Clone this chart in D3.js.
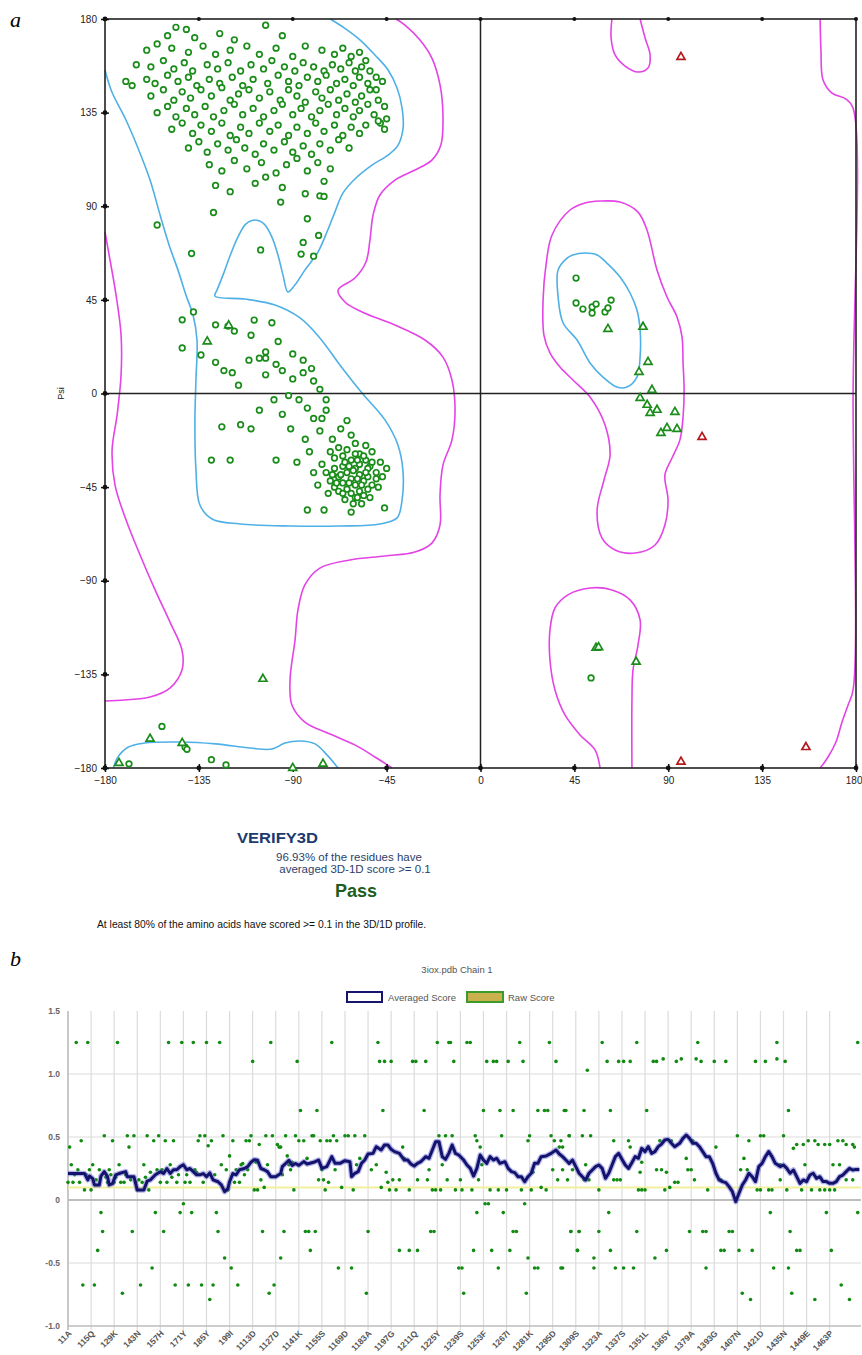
<!DOCTYPE html>
<html><head><meta charset="utf-8">
<script src="https://cdn.jsdelivr.net/npm/d3@7"></script>
<style>body{margin:0;background:#fff}svg{display:block}</style>
</head><body>
<svg id="c" width="862" height="1355"></svg>
<script>
// ---------------- Panel a : Ramachandran data ----------------
const angleTicks = [-180,-135,-90,-45,0,45,90,135,180];

const blueMain = [[-72,180],[-65,175.5],[-57.8,170],[-50.6,162.7],[-44.3,155.5],[-40,146.8],[-37.6,137.2],[-37.1,127.6],[-39.5,119.4],[-44.3,114.6],[-52,109.8],[-59.7,103.6],[-65.9,96.4],[-69.8,87.2],[-73.6,77.6],[-77.9,68],[-84.2,59.3],[-89,52.1],[-92.3,48.8],[-94.7,57],[-97.1,66.6],[-100,75.2],[-103.8,81.5],[-108.1,83.4],[-112.4,81.5],[-116.3,75.2],[-120.1,66.1],[-123.4,57],[-126.3,49.7],[-127.3,46.8],[-112.9,45.4],[-98.5,42.5],[-86.5,36.3],[-77,26.7],[-67.4,13.7],[-56.8,0.2],[-45.8,-12.7],[-39.6,-24.7],[-37.2,-36.8],[-37.6,-51.2],[-40,-59.8],[-48.2,-62.7],[-67.4,-63.7],[-91.3,-63.7],[-115.3,-62.7],[-128.7,-60.3],[-134.5,-53.6],[-136.4,-36.8],[-136.9,-12.7],[-136.4,6.5],[-135.9,25.7],[-137.8,37.7],[-141.2,47.3],[-145,59.3],[-149.3,71.4],[-153.6,85.8],[-158.4,102.6],[-164.2,118],[-170.4,132.4],[-176.7,144.9],[-180,155.5]];
const blueBottom = [[-176,-180],[-174,-175],[-169,-170],[-161,-168],[-144,-167.5],[-127,-168.4],[-110.5,-170.4],[-100,-170.9],[-93.7,-168],[-86.5,-167],[-79.3,-168.4],[-73.6,-173.7],[-68.3,-180]];
const blueRight = [[44.3,66.6],[50.1,67.5],[55.9,66.6],[60.6,62.7],[66.9,56],[71.7,48.3],[75,40.1],[76.5,30.5],[76.5,17.5],[75,7.9],[70.2,3.1],[65.4,3.1],[58.7,7.9],[52.5,14.7],[46.3,25.7],[39.6,33.9],[37.2,46.4],[37.2,59.4],[41.5,65.1]];

const magMain = [[-40.5,180],[-36.2,177.1],[-29,169.9],[-23.3,161.2],[-19.4,148.3],[-18,133.8],[-19,119.4],[-23.3,112.2],[-31.4,107.4],[-41,102.6],[-48.2,95.4],[-51.5,85.8],[-53,73.7],[-54.9,63.2],[-60.2,55.5],[-68.3,49.7],[-65,44],[-56.8,39.2],[-41,32.9],[-26.6,25.7],[-18,17.5],[-13.7,6.5],[-12.2,-7.9],[-13.7,-22.4],[-18,-34.4],[-19.4,-48.8],[-19.4,-63.2],[-23.3,-71.9],[-31.4,-76.2],[-45.8,-78.1],[-62.6,-80],[-77,-83.9],[-84.2,-92],[-87.5,-104],[-88.9,-118.4],[-91.3,-137.7],[-90.4,-149.7],[-84.2,-157.9],[-72.1,-163.7],[-60.2,-168.9],[-50.6,-174.7],[-42.4,-180]];
const magLeft = [[-180,77.6],[-177.6,64.2],[-174.7,47.3],[-172.3,28.1],[-172.3,8.9],[-174.2,-10.3],[-176.6,-27.2],[-175.2,-44],[-169.9,-60.8],[-163.2,-77.6],[-156,-94.4],[-148.9,-109.8],[-143.1,-123.3],[-143.1,-132.9],[-148.9,-141.6],[-158.4,-145.9],[-170.4,-147.3],[-180,-147.8]];
const magRightEdge = [[162.8,180],[163.2,165.1],[164.2,150.7],[168.5,144.4],[175.2,141.5],[178.6,137.2],[178.6,-3.1],[178.6,-142.5],[176.2,-149.7],[173.3,-157.9],[170.4,-167.5],[166.6,-174.7],[162.8,-180]];
const magTop = [[63,180],[62.6,170.9],[64.5,162.7],[69.3,157.4],[75.5,154.5],[80.3,156.4],[81.3,162.7],[78.9,170.9],[76.5,180]];
const magRightLoop = [[57.3,92.5],[66.9,92],[75.5,87.2],[79.8,78.6],[84.6,59.4],[89.4,46.4],[94.2,36.8],[96.6,27.2],[97.1,14.7],[97.6,1.7],[97.1,-11.3],[95.6,-22.3],[91.8,-31],[88.4,-39.2],[89.9,-51.2],[88.4,-63.2],[83.7,-72.8],[74.1,-76.7],[64.5,-75.2],[58.2,-69.4],[55.9,-56],[59.2,-41.6],[62.1,-29.6],[59.7,-15.1],[52.5,-1.7],[44.3,6.5],[38.1,12.7],[33.3,19.5],[30.4,28.1],[30,44.9],[31.4,61.8],[34.3,76.2],[42.9,88.2],[50.1,91.6]];
const magBottomRight = [[57.3,-180],[54.9,-171.3],[47.7,-164.1],[40.5,-154.5],[35.7,-142.5],[33.3,-128.1],[33.3,-113.6],[35.7,-103.1],[41.9,-96.8],[52.5,-93.5],[63,-94.4],[71.7,-99.2],[76.5,-108.8],[75.5,-120.9],[73.1,-132.9],[72.6,-147.3],[72.6,-180]];

const residueCircles = [
[-146,176],[-141,175],[-103,177],[-137,171],[-150,172],[-125,173],[-118,170],[-95,172],
[-160,165],[-155,168],[-148,166],[-140,164],[-133,167],[-127,163],[-120,165],[-112,167],[-106,163],[-98,166],[-90,162],[-84,167],[-76,165],[-70,163],[-66,166],[-62,162],[-58,164],[-55,160],
[-165,158],[-158,157],[-152,160],[-147,156],[-142,159],[-138,155],[-131,158],[-126,156],[-121,159],[-115,155],[-110,158],[-104,156],[-100,160],[-94,157],[-89,155],[-85,159],[-80,157],[-75,155],[-71,158],[-67,156],[-63,159],[-60,155],[-57,157],[-53,155],[-50,152],
[-170,150],[-167,148],[-160,151],[-156,149],[-150,153],[-145,150],[-140,152],[-136,148],[-130,151],[-125,149],[-119,152],[-114,148],[-109,151],[-102,149],[-97,153],[-92,150],[-87,148],[-83,152],[-78,150],[-74,153],[-69,149],[-65,151],[-61,148],[-58,152],[-54,149],[-50,146],[-47,150],
[-158,143],[-152,146],[-147,141],[-143,145],[-139,142],[-134,146],[-129,143],[-124,147],[-120,141],[-116,144],[-111,146],[-106,142],[-101,145],[-96,141],[-92,146],[-88,143],[-84,140],[-79,145],[-76,142],[-72,146],[-68,141],[-64,144],[-60,140],[-57,143],[-53,146],[-49,141],[-46,138],
[-155,135],[-150,138],[-146,133],[-141,137],[-137,134],[-132,138],[-128,133],[-123,136],[-118,139],[-114,134],[-109,137],[-104,133],[-99,136],[-95,139],[-90,134],[-86,137],[-81,133],[-77,136],[-73,139],[-69,134],[-65,137],[-61,133],[-58,136],[-54,139],[-51,134],[-48,130],[-45,132],
[-148,127],[-143,130],[-138,125],[-134,129],[-129,126],[-124,130],[-120,124],[-115,128],[-111,125],[-106,130],[-101,126],[-97,129],[-92,124],[-88,128],[-83,125],[-79,130],[-75,126],[-70,129],[-66,124],[-62,128],[-58,125],[-55,129],
[-140,118],[-135,121],[-131,116],[-126,120],[-121,117],[-117,122],[-113,118],[-108,115],[-104,120],[-99,117],[-94,121],[-90,116],[-85,119],[-81,115],[-77,120],[-72,117],[-68,122],[-63,118],
[-130,110],[-124,107],[-118,112],[-112,108],[-105,111],[-98,106],[-93,110],[-88,113],[-83,107],[-78,111],[-72,108],
[-127,100],[-120,97],[-108,101],[-103,104],[-95,99],[-84,96],[-77,95],[-75,102],
[-155,81],[-138.5,67.3],[-128,87],[-105.4,69],[-86,67],[-85,72.6],[-77.6,76],[-75,94.7],[-95.8,92],[-83,84],[-80,66],[-49,131],[-46,127],
[-143,35.4],[-137.6,39.2],[-143,21.9],[-134,18.5],[-121,32.4],[-108.5,35.3],
[-127,15],[-123,11],[-119,10],[-116,4],[-111,16],[-106,17],[-103,17],[-98,14],[-103,9],[-95,11],[-90,7],[-85,10],[-80,6],[-77,2],[-92,-1],[-87,-3],[-83,-7],[-80,-12],[-77,-18],[-84,-22],[-91,-17],[-95,-10],[-99,-3],[-106,-8],[-110,-17],[-115,-15],[-124,-16],[-129,-32],[-120,-32],[-98,-32],[-74,-3],[-74,-8],[-76,-12],[-71,-22],[-67,-17],[-64,-13],[-62,-20],[-60,-24],[-58,-29],[-55,-32],[-53,-35],[-50,-38],
[-127,33],[-118,30],[-110,28],[-103,20],[-97,25],[-90,19],[-100,34],[-85,16],[-81,12],
[-72,-28],[-70,-31],[-68,-26],[-66,-30],[-64,-27],[-62,-32],[-60,-29],[-58,-34],[-56,-30],[-54,-36],[-52,-33],[-70,-36],[-68,-40],[-66,-35],[-64,-38],[-62,-41],[-60,-36],[-58,-39],[-56,-42],[-54,-40],[-52,-44],[-50,-41],[-72,-42],[-70,-45],[-68,-47],[-66,-43],[-64,-46],[-62,-48],[-60,-44],[-58,-47],[-56,-49],[-54,-46],[-74,-38],[-76,-34],[-73,-48],[-65,-51],[-61,-53],[-67,-39],[-63,-43],[-59,-41],[-65,-33],[-61,-37],[-57,-44],[-69,-43],[-71,-39],[-63,-35],[-59,-32],[-55,-38],[-66,-48],[-60,-50],[-57,-53],[-53,-50],[-49,-45],[-47,-40],[-45,-36],[-48,-33],[-52,-28],[-55,-25],[-82,-28],[-88,-33],[-80,-38],[-78,-44],
[-83,-56],[-75,-56],[-62,-57],[-46,-55],[-59,-50],
[45.8,55.5],[45.8,43.5],[49.1,40.6],[53.5,41.6],[55.4,43],[53.5,38.7],[59.7,39.2],[61.1,41.1],[62.6,44.9],
[53,-136.7],[-152.7,-160],[-141.6,-170],[-140.7,-171],[-168.5,-178],[-129,-176],[-122,-178.5]];
const glycineTriangles = [[61.1,31],[77.9,32],[80.3,15.1],[76,10.3],[82.2,1.7],[76.5,-2.2],[79.9,-5.5],[81.3,-9.4],[84.6,-7.9],[93.2,-8.9],[89.4,-16.6],[86.5,-19],[94.2,-17.1],[-104.3,-137.2],[55.4,-122.3],[56.6,-122],[74.6,-129],[-158.4,-166],[-143,-168],[-173.3,-177.6],[-90,-180],[-75.5,-178],[-131,25],[-120.7,32.7]];
const outlierTriangles = [[106.2,-20.9],[96.1,161.7],[96.1,-177],[156,-170]];

// ---------------- Panel b : Verify3D data ----------------
const residueLabels = ["11A","115Q","129K","143N","157H","171Y","185Y","199I","1113D","1127D","1141K","1155S","1169D","1183A","1197G","1211Q","1225Y","1239S","1253F","1267I","1281K","1295D","1309S","1323A","1337S","1351L","1365Y","1379A","1393G","1407N","1421D","1435N","1449E","1463P"];
const labelResidues = residueLabels.map((d,i)=>1+14*i);
const scoreTicks = [1.5,1.0,0.5,0,-0.5,-1.0];
const scoreTickLabels = ["1.5","1.0","0.5","0","-0.5","-1.0"];

const rawScores = [
[1,0.14],[2,0.42],[3,0.28],[4,0.14],[5,0.2],[6,1.25],[7,0.24],[8,0.14],[9,0.47],[10,-0.675],[11,0.08],[12,0.2],[13,1.25],[14,0.24],
[15,0.08],[16,0.28],[17,-0.675],[18,0.16],[19,-0.40],[20,0.24],[21,-0.10],[22,-0.25],[23,0.51],[24,0.18],[25,0.14],[26,0.24],[27,0.2],[28,0.47],
[29,0.14],[30,0.18],[31,1.25],[32,0.28],[33,0.14],[34,-0.74],[35,0.14],[36,0.2],[37,0.51],[38,0.42],[39,0.16],[40,-0.25],[41,0.51],[42,0.14],
[43,0.08],[44,0.16],[45,-0.675],[46,0.14],[47,0.28],[48,0.18],[49,0.51],[50,0.08],[51,0.22],[52,-0.54],[53,0.47],[54,-0.10],[55,0.24],[56,0.51],
[57,0.14],[58,0.24],[59,-0.25],[60,0.47],[61,0.14],[62,1.25],[63,0.28],[64,0.18],[65,0.47],[66,-0.675],[67,0.14],[68,0.2],[69,-0.10],[70,1.25],
[71,-0.03],[72,0.14],[73,0.2],[74,-0.675],[75,0.14],[76,-0.10],[77,1.25],[78,0.24],[79,0.22],[80,0.47],[81,0.51],[82,-0.675],[83,0.14],[84,0.51],
[85,1.25],[86,0.43],[87,-0.79],[88,0.47],[89,-0.675],[90,0.2],[91,-0.10],[92,-0.25],[93,1.25],[94,0.28],[95,0.51],[96,-0.46],[97,0.24],[98,0.08],
[99,0.35],[100,-0.54],[101,0.47],[102,0.14],[103,0.24],[104,-0.675],[105,0.14],[106,0.28],[107,0.29],[108,0.2],[109,0.47],[110,0.24],[111,0.47],[112,0.51],
[113,1.10],[114,0.08],[115,0.3],[116,0.08],[117,0.44],[118,0.16],[119,-0.25],[120,0.1],[121,0.51],[122,0.28],[123,-0.74],[124,1.25],[125,0.51],[126,-0.675],
[128,0.44],[129,0.42],[131,0.2],[134,0.35],[135,0.28],[136,0.24],[137,0.3],
[161,1.25],[189,1.25],[225,1.25],[232,1.25],[233,1.25],[243,1.25],[245,1.25],[275,1.25],[293,1.25],
[140,1.10],[190,1.10],[193,1.10],[197,1.10],[210,1.10],[212,1.10],[218,1.10],[235,1.10],[255,1.10],[259,1.10],[261,1.10],[268,1.10],[277,1.10],[297,1.10],
[142,0.71],[152,0.71],[192,0.71],[217,0.71],[253,0.71],[263,0.71],[271,0.71],[286,0.71],[290,0.71],[292,0.71],[303,0.71],
[133,0.51],[139,0.51],[149,0.51],[150,0.51],[162,0.51],[169,0.51],[171,0.51],[175,0.51],[181,0.51],[226,0.51],[230,0.51],[234,0.51],[248,0.51],[264,0.51],[281,0.51],[294,0.51],[305,0.51],
[141,0.47],[144,0.47],[154,0.47],[158,0.47],[160,0.47],[164,0.47],[249,0.47],[280,0.47],[296,0.47],
[130,0.42],[204,0.42],[251,0.42],[299,0.42],[301,0.42],
[146,0.33],[178,0.33],[205,0.33],
[176,0.28],[188,0.28],[228,0.28],[252,0.28],
[155,0.24],[163,0.24],[185,0.24],[220,0.24],[295,0.24],
[194,0.22],[283,0.22],
[153,0.16],[156,0.16],[198,0.16],[202,0.16],[213,0.16],[219,0.16],[231,0.16],[239,0.16],[250,0.16],[298,0.16],[304,0.16],
[159,0.14],[195,0.14],
[167,0.10],[191,0.10],[288,0.10],
[138,0.08],[157,0.08],[174,0.08],[196,0.08],[200,0.08],[208,0.08],[222,0.08],[224,0.08],[227,0.08],[236,0.08],[240,0.08],[246,0.08],[257,0.08],[262,0.08],[267,0.08],[276,0.08],[282,0.08],[291,0.08],
[254,-0.03],[256,-0.03],[278,-0.03],
[249,-0.10],[265,-0.10],
[132,-0.25],[145,-0.25],[147,-0.25],[151,-0.25],[183,-0.25],[221,-0.25],[223,-0.25],[271,-0.25],[273,-0.25],[306,-0.25],[311,-0.25],
[148,-0.40],[202,-0.40],[208,-0.40],[213,-0.40],[247,-0.40],[258,-0.40],[269,-0.40],[310,-0.40],
[130,-0.46],[280,-0.46],
[165,-0.54],[173,-0.54],[238,-0.54],[240,-0.54],[262,-0.54],[284,-0.54],[286,-0.54],[300,-0.54],
[182,-0.74],[241,-0.74],[279,-0.74],
[325,1.25],[346,1.25],[383,1.25],[431,1.25],[480,1.25],
[328,1.10],[335,1.10],[338,1.10],[342,1.10],[356,1.10],[358,1.10],[362,1.12],[370,1.10],[373,1.12],[382,1.12],[385,1.10],[393,1.10],[400,1.10],[418,1.10],[424,1.10],[431,1.12],[436,1.10],
[316,1.03],
[302,0.71],[314,0.71],[330,0.71],[352,0.71],[438,0.71],
[305,0.51],[313,0.51],[318,0.51],[407,0.51],[421,0.51],[423,0.51],[435,0.51],
[300,0.47],[332,0.47],[341,0.47],[360,0.47],[367,0.47],[380,0.47],[414,0.47],[450,0.47],[454,0.47],[468,0.47],[471,0.47],
[443,0.44],[447,0.44],[456,0.44],[460,0.44],[463,0.44],[473,0.44],[477,0.44],
[342,0.42],[394,0.42],[441,0.41],[478,0.42],
[376,0.33],[411,0.33],
[315,0.28],[349,0.30],[433,0.28],[448,0.28],[465,0.28],[469,0.28],
[301,0.24],[307,0.24],[358,0.24],[361,0.24],[379,0.24],[377,0.24],[409,0.24],[413,0.24],
[348,0.22],[364,0.22],
[314,0.16],[317,0.16],[332,0.16],[334,0.16],[336,0.16],[381,0.16],[397,0.16],[418,0.16],[433,0.16],[473,0.16],[477,0.16],
[369,0.14],[371,0.14],[366,0.10],
[323,0.08],[347,0.08],[349,0.08],[351,0.08],[363,0.08],[389,0.08],[419,0.08],[421,0.08],[426,0.08],[428,0.08],[437,0.08],[446,0.08],[452,0.08],[457,0.08],[460,0.08],[463,0.08],[466,0.08],
[329,-0.10],[427,-0.10],[461,-0.10],[480,-0.10],
[306,-0.25],[311,-0.25],[323,-0.25],[346,-0.25],[378,-0.25],[386,-0.25],[388,-0.25],[402,-0.25],[404,-0.25],[439,-0.25],
[310,-0.40],[330,-0.40],[364,-0.40],[397,-0.40],[399,-0.40],[408,-0.40],[416,-0.40],[443,-0.40],[445,-0.40],[464,-0.40],
[320,-0.46],[357,-0.46],
[301,-0.54],[320,-0.54],[333,-0.54],[338,-0.54],[344,-0.54],[388,-0.54],[429,-0.54],[438,-0.54],
[410,-0.74],[440,-0.74],[415,-0.79],[454,-0.79],[475,-0.79],[470,-0.675]];

const avgScores = [[1,0.21],[11,0.21],[13,0.16],[14,0.19],[16,0.17],[17,0.12],[20,0.12],[21,0.19],[23,0.225],[25,0.185],[26,0.12],[28,0.13],[30,0.2],[32,0.21],[36,0.225],[37,0.185],[40,0.185],[41,0.185],[43,0.08],[47,0.08],[49,0.15],[51,0.16],[54,0.2],[57,0.225],[59,0.21],[61,0.25],[63,0.21],[65,0.24],[67,0.24],[69,0.265],[71,0.28],[73,0.24],[75,0.25],[77,0.225],[79,0.2],[81,0.2],[83,0.21],[85,0.185],[87,0.215],[89,0.16],[92,0.145],[94,0.12],[96,0.066],[98,0.09],[99,0.145],[101,0.21],[103,0.2],[105,0.24],[108,0.25],[110,0.265],[112,0.30],[114,0.32],[116,0.315],[118,0.25],[120,0.24],[122,0.225],[124,0.185],[127,0.185],[130,0.21],[131,0.265],[133,0.29],[135,0.315],[137,0.275],[139,0.29],[141,0.275],[144,0.305],[146,0.286],[150,0.299],[153,0.317],[155,0.251],[158,0.265],[161,0.344],[163,0.291],[166,0.291],[169,0.312],[172,0.304],[173,0.185],[175,0.212],[177,0.225],[179,0.291],[181,0.317],[183,0.365],[186,0.37],[188,0.423],[191,0.397],[193,0.437],[195,0.437],[197,0.402],[199,0.384],[202,0.37],[205,0.317],[207,0.317],[209,0.286],[211,0.27],[213,0.291],[215,0.304],[218,0.344],[220,0.331],[222,0.397],[224,0.463],[226,0.463],[228,0.344],[230,0.323],[232,0.37],[234,0.437],[236,0.37],[238,0.357],[241,0.317],[243,0.278],[245,0.251],[247,0.19],[249,0.251],[251,0.357],[253,0.317],[255,0.291],[257,0.344],[259,0.317],[261,0.331],[263,0.291],[266,0.304],[268,0.251],[270,0.225],[272,0.217],[274,0.185],[276,0.185],[278,0.145],[280,0.185],[282,0.212],[284,0.291],[286,0.291],[288,0.344],[291,0.349],[294,0.37],[297,0.397],[299,0.365],[301,0.344],[303,0.317],[305,0.291],[307,0.317],[309,0.265],[311,0.212],[313,0.185],[315,0.159],[317,0.212],[319,0.238],[321,0.265],[323,0.278],[325,0.251],[327,0.172],[329,0.212],[331,0.278],[333,0.344],[335,0.37],[337,0.323],[339,0.278],[341,0.251],[343,0.296],[345,0.344],[347,0.331],[349,0.41],[351,0.384],[353,0.423],[355,0.37],[357,0.384],[359,0.423],[361,0.444],[363,0.476],[365,0.481],[367,0.45],[369,0.423],[372,0.45],[374,0.489],[376,0.516],[378,0.489],[380,0.45],[382,0.45],[384,0.423],[386,0.384],[388,0.344],[390,0.344],[392,0.291],[394,0.212],[396,0.159],[398,0.146],[400,0.138],[402,0.106],[404,0.066],[406,-0.013],[408,0.053],[410,0.119],[412,0.159],[414,0.212],[416,0.185],[418,0.146],[420,0.265],[422,0.291],[424,0.344],[426,0.384],[428,0.344],[430,0.291],[433,0.265],[435,0.278],[437,0.251],[439,0.212],[441,0.238],[443,0.185],[445,0.132],[447,0.159],[449,0.146],[451,0.198],[453,0.212],[455,0.172],[457,0.185],[459,0.146],[461,0.146],[463,0.132],[465,0.132],[467,0.146],[469,0.185],[471,0.198],[473,0.225],[475,0.251],[477,0.238],[479,0.243],[481,0.243]];
const threshold = 0.1;

// ---------------- Drawing ----------------
const svg = d3.select("#c");
const FONT = "'Liberation Sans', Arial, sans-serif";

svg.append("text").attr("x",10).attr("y",27).text("a")
  .attr("font-family","'Liberation Serif','DejaVu Serif',serif").attr("font-style","italic").attr("font-size",22);
svg.append("text").attr("x",10).attr("y",966).text("b")
  .attr("font-family","'Liberation Serif','DejaVu Serif',serif").attr("font-style","italic").attr("font-size",22);

const x = d3.scaleLinear().domain([-180,180]).range([105,856]);
const y = d3.scaleLinear().domain([-180,180]).range([768,19]);
const ga = svg.append("g");

const openLine = d3.line().x(d=>x(d[0])).y(d=>y(d[1])).curve(d3.curveCatmullRom.alpha(0.5));
const closedLine = d3.line().x(d=>x(d[0])).y(d=>y(d[1])).curve(d3.curveCatmullRomClosed.alpha(0.5));
const BLUE = "#4fb0e6", MAG = "#e443e6";
[[magMain,false],[magLeft,false],[magRightEdge,false],[magTop,false],[magRightLoop,true],[magBottomRight,false]].forEach(([p,c])=>{
  ga.append("path").attr("d",(c?closedLine:openLine)(p)).attr("fill","none").attr("stroke",MAG).attr("stroke-width",1.6);
});
[[blueMain,false],[blueBottom,false],[blueRight,true]].forEach(([p,c])=>{
  ga.append("path").attr("d",(c?closedLine:openLine)(p)).attr("fill","none").attr("stroke",BLUE).attr("stroke-width",1.6);
});

// frame and cross lines
ga.append("rect").attr("x",x(-180)).attr("y",y(180)).attr("width",x(180)-x(-180)).attr("height",y(-180)-y(180))
  .attr("fill","none").attr("stroke","#222").attr("stroke-width",1.6);
ga.append("line").attr("x1",x(0)).attr("x2",x(0)).attr("y1",y(180)).attr("y2",y(-180)).attr("stroke","#222").attr("stroke-width",1.5);
ga.append("line").attr("x1",x(-180)).attr("x2",x(180)).attr("y1",y(0)).attr("y2",y(0)).attr("stroke","#222").attr("stroke-width",1.5);

// axes
const axB = ga.append("g").attr("transform",`translate(0,${y(-180)})`)
  .call(d3.axisBottom(x).tickValues(angleTicks).tickSize(4).tickPadding(5).tickFormat(d3.format("d")));
const axL = ga.append("g").attr("transform",`translate(${x(-180)},0)`)
  .call(d3.axisLeft(y).tickValues(angleTicks).tickSize(4).tickPadding(4).tickFormat(d3.format("d")));
[axB,axL].forEach(a=>{
  a.select(".domain").remove();
  a.selectAll("line").attr("stroke","#111").attr("stroke-width",1.5);
  a.selectAll("text").attr("font-family",FONT).attr("font-size",10).attr("fill","#222");
});
axB.selectAll("line").attr("y1",-4);
axL.selectAll("line").attr("x1",4);
axB.selectAll(".tick").filter(d=>d===180).select("text").attr("text-anchor","end").attr("dx",6);
ga.selectAll("circle.tk").data(angleTicks).enter().append("circle").attr("class","tk")
  .attr("cx",d=>x(d)).attr("cy",y(-180)).attr("r",2.4).attr("fill","#111");
ga.selectAll("circle.tky").data(angleTicks).enter().append("circle").attr("class","tky")
  .attr("cx",x(-180)).attr("cy",d=>y(d)).attr("r",2.4).attr("fill","#111");
ga.selectAll("circle.tkt").data(angleTicks).enter().append("circle").attr("class","tkt")
  .attr("cx",d=>x(d)).attr("cy",y(180)).attr("r",2).attr("fill","#111");
ga.append("text").attr("transform",`translate(64,${y(0)}) rotate(-90)`).attr("text-anchor","middle")
  .attr("font-family",FONT).attr("font-size",9).attr("fill","#222").text("Psi");

// points
ga.selectAll("circle.res").data(residueCircles).enter().append("circle").attr("class","res")
  .attr("cx",d=>x(d[0])).attr("cy",d=>y(d[1])).attr("r",2.8)
  .attr("fill","#fff").attr("stroke","#1a8c1a").attr("stroke-width",1.7);
const tri = d3.symbol().type(d3.symbolTriangle).size(28);
ga.selectAll("path.gly").data(glycineTriangles).enter().append("path").attr("class","gly")
  .attr("d",tri).attr("transform",d=>`translate(${x(d[0])},${y(d[1])})`)
  .attr("fill","#fff").attr("stroke","#1a8c1a").attr("stroke-width",1.7);
ga.selectAll("path.out").data(outlierTriangles).enter().append("path").attr("class","out")
  .attr("d",tri).attr("transform",d=>`translate(${x(d[0])},${y(d[1])})`)
  .attr("fill","#fff").attr("stroke","#b3181c").attr("stroke-width",1.7);

// VERIFY3D text block
svg.append("text").attr("x",237).attr("y",843).text("VERIFY3D").attr("font-family",FONT)
  .attr("font-weight","bold").attr("font-size",15).attr("fill","#1d3a6e").attr("textLength",81).attr("lengthAdjust","spacingAndGlyphs");
svg.append("text").attr("x",349).attr("y",861).attr("text-anchor","middle").text("96.93% of the residues have")
  .attr("font-family",FONT).attr("font-size",11.5).attr("fill","#2b3f6b");
svg.append("text").attr("x",355).attr("y",873).attr("text-anchor","middle").text("averaged 3D-1D score >= 0.1")
  .attr("font-family",FONT).attr("font-size",11.5).attr("fill","#2b3f6b");
svg.append("text").attr("x",356).attr("y",897).attr("text-anchor","middle").text("Pass")
  .attr("font-family",FONT).attr("font-weight","bold").attr("font-size",18).attr("fill","#1d5c1d");
svg.append("text").attr("x",97).attr("y",928).text("At least 80% of the amino acids have scored >= 0.1 in the 3D/1D profile.")
  .attr("font-family",FONT).attr("font-size",10.3).attr("fill","#111");

// ---------------- Panel b ----------------
const xb = d3.scaleLinear().domain([1,482]).range([68,861]);
const yb = d3.scaleLinear().domain([-1,1.5]).range([1326,1011]);
const gb = svg.append("g");

gb.selectAll("line.vg").data(labelResidues).enter().append("line").attr("class","vg")
  .attr("x1",d=>xb(d)).attr("x2",d=>xb(d)).attr("y1",yb(1.5)).attr("y2",yb(-1)+4)
  .attr("stroke","#dcdcdc").attr("stroke-width",1.2);
gb.selectAll("line.hg").data([1.0,0.5,-0.5]).enter().append("line").attr("class","hg")
  .attr("x1",xb(1)).attr("x2",xb(482)).attr("y1",d=>yb(d)).attr("y2",d=>yb(d))
  .attr("stroke","#dcdcdc").attr("stroke-width",1.2);
gb.append("line").attr("x1",xb(1)).attr("x2",xb(482)).attr("y1",yb(0)).attr("y2",yb(0)).attr("stroke","#a8a8a8").attr("stroke-width",1.5);
gb.append("line").attr("x1",xb(1)).attr("x2",xb(482)).attr("y1",yb(-1)).attr("y2",yb(-1)).attr("stroke","#bdbdbd").attr("stroke-width",1.5);
gb.append("line").attr("x1",xb(1)).attr("x2",xb(1)).attr("y1",yb(1.5)).attr("y2",yb(-1)+4).attr("stroke","#bdbdbd").attr("stroke-width",1.5);

gb.selectAll("text.yt").data(scoreTicks).enter().append("text").attr("class","yt")
  .attr("x",60).attr("y",d=>yb(d)+3).attr("text-anchor","end").text((d,i)=>scoreTickLabels[i])
  .attr("font-family",FONT).attr("font-weight","bold").attr("font-size",8.5).attr("fill","#666");
gb.selectAll("text.xt").data(labelResidues).enter().append("text").attr("class","xt")
  .attr("transform",d=>`translate(${xb(d)+4},${yb(-1)+8}) rotate(-45)`).attr("text-anchor","end")
  .text((d,i)=>residueLabels[i]).attr("font-family",FONT).attr("font-weight","bold").attr("font-size",8.5).attr("fill","#555");

gb.append("line").attr("x1",xb(1)).attr("x2",xb(482)).attr("y1",yb(threshold)).attr("y2",yb(threshold))
  .attr("stroke","#f2ef9c").attr("stroke-width",2);

gb.selectAll("circle.raw").data(rawScores).enter().append("circle").attr("class","raw")
  .attr("cx",d=>xb(d[0])).attr("cy",d=>yb(d[1])).attr("r",1.8).attr("fill","#118a11");

const avgLine = d3.line().x(d=>xb(d[0])).y(d=>yb(d[1]));
gb.append("path").attr("d",avgLine(avgScores)).attr("fill","none").attr("stroke","#5a5ad0").attr("stroke-opacity",0.45).attr("stroke-width",5.5).attr("stroke-linejoin","round");
gb.append("path").attr("d",avgLine(avgScores)).attr("fill","none").attr("stroke","#13136e").attr("stroke-width",3).attr("stroke-linejoin","round");

// title & legend
gb.append("text").attr("x",457).attr("y",973).attr("text-anchor","middle").text("3iox.pdb Chain 1")
  .attr("font-family",FONT).attr("font-size",9.5).attr("fill","#555");
gb.append("rect").attr("x",347).attr("y",992).attr("width",35).attr("height",10).attr("fill","#fff").attr("stroke","#16166e").attr("stroke-width",2);
gb.append("text").attr("x",388).attr("y",1000.5).text("Averaged Score").attr("font-family",FONT).attr("font-size",9.5).attr("fill","#555");
gb.append("rect").attr("x",467).attr("y",992).attr("width",36).attr("height",10).attr("fill","#c9b24e").attr("stroke","#3d9a2c").attr("stroke-width",2);
gb.append("text").attr("x",508).attr("y",1000.5).text("Raw Score").attr("font-family",FONT).attr("font-size",9.5).attr("fill","#555");
</script></body></html>
